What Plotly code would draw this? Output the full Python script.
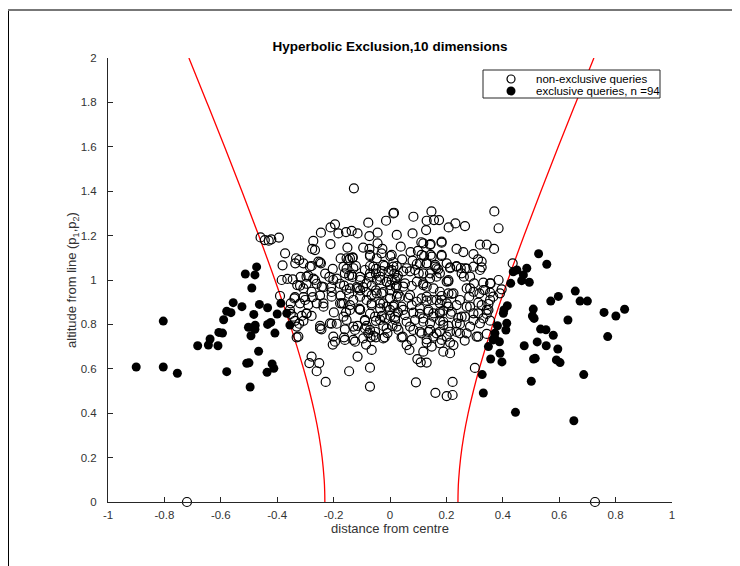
import plotly.graph_objects as go

# ---------------- data ----------------
open_x = [
    -0.72, 0.727,
    -0.459, -0.444, -0.430, -0.421, -0.394, -0.372, -0.381, -0.333, -0.336, -0.384, -0.364, -0.345, -0.329, -0.339, -0.390, -0.352, -0.343, -0.331, -0.325,
    -0.128, 0.012, -0.014, -0.077, -0.195, -0.211, -0.183, -0.156, -0.136, -0.115, -0.245, -0.073, -0.044, 0.024, -0.272, -0.211, -0.044, -0.151, -0.095, -0.073,
    -0.266, -0.276, -0.027, -0.175, -0.142, -0.133, -0.047, 0.001, -0.071, -0.322, -0.278, -0.248, -0.245, -0.203, -0.154, -0.121, -0.071, -0.050, -0.019, 0.024,
    0.012, -0.317, -0.290, -0.272, -0.230, -0.215, -0.189, -0.145, -0.133, -0.106, -0.071, -0.050, -0.029, -0.005, 0.015, 0.028,
    -0.319, -0.296, -0.260, -0.236, -0.209, -0.177, -0.163, -0.118, -0.095, -0.065, -0.035, -0.012, 0.006, 0.024,
    -0.337, -0.307, -0.274, -0.248, -0.207, -0.175, -0.145, -0.115, -0.106, -0.083, -0.050, -0.024, 0.001, 0.028,
    -0.352, -0.319, -0.290, -0.260, -0.236, -0.171, -0.142, -0.109, -0.065, -0.035, -0.012, 0.015,
    -0.355, -0.313, -0.296, -0.278, -0.199, -0.156, -0.089, -0.071, -0.029, 0.001, 0.028,
    -0.337, -0.322, -0.307, -0.248, -0.243, -0.207, -0.189, -0.160, -0.115, -0.083, -0.050, -0.024, -0.009, 0.009,
    -0.331, -0.195, -0.203, -0.163, -0.124, -0.077, -0.069, -0.085, -0.050, -0.019,
    -0.278, -0.286, -0.251, -0.115, -0.145, -0.071, -0.260, -0.228, -0.071, -0.065,
    0.014, 0.083, 0.147, 0.130, 0.156, 0.174, 0.370, 0.385, 0.208, 0.232, 0.266, 0.128, 0.080,
    0.038, 0.111, 0.144, 0.183, 0.236, 0.260, 0.319, 0.343, 0.369, 0.296, 0.006, 0.073, 0.099, 0.121, 0.144, 0.183,
    0.043, 0.080, 0.095, 0.130, 0.160, 0.171, 0.213, 0.236, 0.251, 0.272, 0.312, 0.325,
    0.012, 0.006, 0.047, 0.071, 0.102, 0.142, 0.165, 0.207, 0.262, 0.298, 0.331, 0.357, 0.385,
    0.018, 0.000, 0.021, 0.047, 0.077, 0.118, 0.183, 0.219, 0.284, 0.281, 0.317, 0.355, 0.390,
    0.024, 0.065, 0.095, 0.130, 0.177, 0.207, 0.236, 0.272, 0.313, 0.349,
    0.012, 0.047, 0.083, 0.106, 0.154, 0.189, 0.215, 0.242, 0.266, 0.313, 0.343,
    0.018, 0.059, 0.118, 0.177, 0.207, 0.248, 0.296, 0.319, 0.355,
    0.024, 0.083, 0.112, 0.136, 0.165, 0.213, 0.236, 0.272, 0.313, 0.343,
    0.045, 0.059, 0.069, 0.130, 0.148, 0.189, 0.213, 0.118, 0.265, 0.213,
    0.097, 0.109, 0.130, 0.092, 0.222, 0.161, 0.201, 0.222, 0.301,
    0.435, 0.396, 0.337, 0.366, 0.349, 0.331,
    -0.154, -0.132, -0.071, -0.030, 0.106, 0.201,
    -0.160, -0.136, -0.089, -0.059, -0.024, 0.059, 0.089, 0.118, 0.165, 0.201,
    -0.154, -0.083, -0.047, -0.012, 0.024, 0.053, 0.095, 0.130, 0.177, 0.207,
    -0.165, -0.130, -0.106, -0.065, -0.030, 0.000, 0.035, 0.071, 0.112, 0.148, 0.183,
    -0.142, -0.106, -0.065, -0.035, 0.000, 0.041, 0.077, 0.106, 0.136, 0.177,
    -0.154, -0.089, -0.053, -0.018, 0.018, 0.053, 0.089, 0.118, 0.154, 0.189,
    -0.124, -0.089, -0.053, -0.012, 0.030, 0.071, 0.106, 0.142, 0.177,
    -0.160, -0.130, -0.095, -0.059, -0.024, 0.041, 0.077, 0.130, 0.183,
    -0.307, -0.284, -0.254, -0.296, -0.266, -0.307, -0.278, -0.242, -0.301, -0.236, -0.296,
    -0.201, -0.207, -0.177, -0.142, -0.106, -0.071, -0.035, -0.047, -0.083, -0.024, -0.106,
    -0.165, -0.213, -0.248, -0.201, -0.130, -0.071, -0.035, -0.165, -0.130, -0.148,
    0.118, 0.142, 0.183, 0.112, 0.148, 0.183, 0.130, 0.160, 0.213, 0.236, 0.266, 0.296, 0.325,
    0.142, 0.177, 0.207, 0.254, 0.284, 0.319, 0.118, 0.154, 0.225, 0.272, 0.296, 0.331, 0.355,
    0.130, 0.165, 0.201, 0.248, 0.284, 0.325, 0.355, 0.136, 0.177, 0.219, 0.254, 0.296, 0.343,
    0.142, 0.189, 0.236, 0.284, 0.154, 0.201, 0.248, 0.307, 0.177, 0.225,
]
open_y = [
    0.0, 0.0,
    1.192, 1.180, 1.177, 1.183, 1.191, 1.120, 1.066, 1.098, 1.075, 1.000, 1.005, 1.003, 0.977, 0.917, 0.928, 0.847, 0.835, 0.790, 0.745,
    1.413, 1.300, 1.267, 1.258, 1.251, 1.237, 1.210, 1.216, 1.221, 1.210, 1.213, 1.198, 1.213, 1.203, 1.176, 1.162, 1.165, 1.146, 1.146, 1.140,
    1.135, 1.140, 1.140, 1.097, 1.097, 1.100, 1.097, 1.108, 1.108, 1.090, 1.063, 1.080, 1.075, 1.050, 1.050, 1.063, 1.063, 1.050, 1.063, 1.063,
    1.080, 1.014, 1.020, 1.006, 1.029, 1.014, 1.006, 1.020, 1.014, 1.014, 1.014, 1.029, 1.040, 1.040, 1.029, 1.020,
    0.975, 0.983, 0.983, 0.968, 0.968, 0.983, 0.975, 0.968, 0.968, 0.975, 1.000, 0.991, 1.000, 0.975,
    0.923, 0.923, 0.923, 0.930, 0.946, 0.930, 0.938, 0.962, 0.953, 0.946, 0.953, 0.946, 0.953, 0.938,
    0.895, 0.895, 0.887, 0.895, 0.895, 0.895, 0.887, 0.871, 0.895, 0.895, 0.880, 0.887,
    0.865, 0.838, 0.848, 0.838, 0.854, 0.854, 0.816, 0.848, 0.838, 0.838, 0.854,
    0.816, 0.803, 0.816, 0.793, 0.778, 0.803, 0.803, 0.778, 0.793, 0.793, 0.816, 0.793, 0.761, 0.793,
    0.742, 0.722, 0.709, 0.742, 0.722, 0.761, 0.742, 0.709, 0.742, 0.742,
    0.655, 0.626, 0.626, 0.655, 0.589, 0.605, 0.589, 0.541, 0.520, 0.685,
    1.303, 1.285, 1.309, 1.267, 1.270, 1.270, 1.309, 1.233, 1.237, 1.255, 1.243, 1.225, 1.210,
    1.150, 1.170, 1.162, 1.173, 1.140, 1.126, 1.159, 1.159, 1.140, 1.117, 1.113, 1.126, 1.131, 1.108, 1.113, 1.108,
    1.093, 1.087, 1.072, 1.075, 1.060, 1.048, 1.057, 1.063, 1.054, 1.051, 1.093, 1.057,
    1.060, 1.045, 1.039, 1.039, 1.030, 1.007, 1.015, 0.994, 1.015, 0.985, 0.988, 0.985, 1.000,
    1.000, 0.977, 0.967, 0.970, 0.973, 0.977, 0.928, 0.937, 0.962, 0.925, 0.940, 0.943, 0.940,
    0.925, 0.920, 0.902, 0.907, 0.895, 0.880, 0.887, 0.880, 0.898, 0.892,
    0.880, 0.865, 0.853, 0.847, 0.850, 0.862, 0.847, 0.829, 0.835, 0.850, 0.847,
    0.835, 0.812, 0.812, 0.817, 0.793, 0.802, 0.820, 0.805, 0.817,
    0.790, 0.775, 0.760, 0.766, 0.760, 0.767, 0.766, 0.760, 0.745, 0.757,
    0.745, 0.707, 0.685, 0.718, 0.700, 0.677, 0.670, 0.677, 0.727, 0.718,
    0.644, 0.629, 0.628, 0.539, 0.541, 0.492, 0.477, 0.482, 0.604,
    1.075, 0.958, 0.955, 0.925, 0.865, 0.827,
    1.098, 1.102, 1.113, 1.120, 1.075, 1.075,
    1.030, 1.023, 1.045, 1.060, 1.068, 1.053, 1.045, 1.030, 1.053, 0.993,
    0.955, 0.985, 1.000, 0.993, 1.008, 0.985, 0.993, 0.970, 0.947, 0.940,
    0.895, 0.910, 0.925, 0.932, 0.940, 0.917, 0.925, 0.932, 0.917, 0.910, 0.910,
    0.865, 0.868, 0.887, 0.872, 0.865, 0.880, 0.887, 0.872, 0.857, 0.857,
    0.820, 0.820, 0.835, 0.827, 0.820, 0.842, 0.820, 0.827, 0.835, 0.812,
    0.775, 0.782, 0.767, 0.782, 0.775, 0.790, 0.767, 0.775, 0.767,
    0.730, 0.730, 0.737, 0.748, 0.737, 0.742, 0.730, 0.733, 0.730,
    1.075, 1.060, 1.083, 1.015, 1.000, 0.962, 0.947, 0.970, 0.910, 0.880, 0.850,
    1.000, 0.925, 0.895, 0.962, 1.000, 1.030, 1.015, 0.940, 0.910, 0.895, 0.865,
    0.835, 0.805, 0.782, 0.745, 0.790, 0.775, 0.820, 1.060, 1.053, 1.090,
    1.165, 1.158, 1.168, 1.113, 1.105, 1.113, 1.075, 1.068, 1.053, 1.060, 1.053, 1.060, 1.083,
    1.030, 1.030, 1.000, 1.030, 1.015, 1.045, 0.985, 0.962, 0.940, 0.962, 0.947, 0.955, 0.985,
    0.925, 0.910, 0.895, 0.910, 0.880, 0.887, 0.910, 0.865, 0.850, 0.857, 0.835, 0.850, 0.865,
    0.805, 0.797, 0.805, 0.790, 0.745, 0.745, 0.760, 0.745, 0.715, 0.707,
]

excl_x = [
    -0.900, -0.804, -0.804, -0.754, -0.682, -0.644, -0.638, -0.610, -0.607, -0.594,
    -0.590, -0.579, -0.564, -0.556, -0.525, -0.579, -0.513, -0.473, -0.479, -0.490,
    -0.463, -0.483, -0.434, -0.400, -0.387, -0.502, -0.478, -0.479, -0.493, -0.434,
    -0.423, -0.408, -0.466, -0.508, -0.500, -0.418, -0.412, -0.436, -0.496, -0.355,
    -0.366,
    0.527, 0.556, 0.485, 0.473, 0.467, 0.494, 0.437, 0.428, 0.657, 0.597,
    0.570, 0.674, 0.700, 0.759, 0.801, 0.832, 0.772, 0.631, 0.508, 0.505,
    0.511, 0.534, 0.553, 0.579, 0.522, 0.554, 0.595, 0.476, 0.509, 0.515,
    0.590, 0.603, 0.687, 0.501, 0.445, 0.652, 0.416, 0.404, 0.414, 0.411,
    0.381, 0.372, 0.388, 0.349, 0.390, 0.357, 0.397, 0.327, 0.331, 0.402,
    0.372, 0.366, 0.450,
]
excl_y = [
    0.608, 0.815, 0.608, 0.580, 0.704, 0.707, 0.734, 0.704, 0.764, 0.761,
    0.821, 0.859, 0.853, 0.898, 0.880, 0.587, 1.027, 1.059, 1.023, 0.964,
    0.890, 0.845, 0.875, 0.847, 0.895, 0.787, 0.796, 0.778, 0.749, 0.800,
    0.809, 0.761, 0.679, 0.625, 0.627, 0.622, 0.602, 0.584, 0.518, 0.797,
    0.850,
    1.118, 1.071, 1.053, 1.023, 0.997, 0.990, 1.037, 0.985, 0.950, 0.926,
    0.905, 0.905, 0.905, 0.854, 0.838, 0.868, 0.745, 0.820, 0.869, 0.838,
    0.827, 0.779, 0.776, 0.751, 0.721, 0.704, 0.689, 0.704, 0.644, 0.647,
    0.640, 0.628, 0.574, 0.544, 0.404, 0.366, 0.884, 0.865, 0.805, 0.775,
    0.794, 0.737, 0.722, 0.700, 0.670, 0.644, 0.631, 0.574, 0.491, 0.850,
    0.760, 0.730, 1.045,
]

# hyperbolic boundary
curve_y = [0.0, 0.05, 0.1, 0.2, 0.3, 0.4, 0.5, 0.6, 0.8, 1.0, 1.2, 1.4, 1.6, 1.8, 2.0]
right_x = [0.241, 0.2416, 0.2434, 0.2506, 0.262, 0.2772, 0.2956, 0.3166, 0.3646, 0.4181, 0.4754, 0.5351, 0.5966, 0.6594, 0.7231]
left_x = [-0.231, -0.2316, -0.2334, -0.2406, -0.252, -0.2672, -0.2856, -0.3066, -0.3546, -0.4081, -0.4654, -0.5251, -0.5866, -0.6494, -0.7131]

x_ticks = [-1, -0.8, -0.6, -0.4, -0.2, 0, 0.2, 0.4, 0.6, 0.8, 1]
x_ticktext = ["-1", "-0.8", "-0.6", "-0.4", "-0.2", "0", "0.2", "0.4", "0.6", "0.8", "1"]
y_ticks = [0, 0.2, 0.4, 0.6, 0.8, 1, 1.2, 1.4, 1.6, 1.8, 2]
y_ticktext = ["0", "0.2", "0.4", "0.6", "0.8", "1", "1.2", "1.4", "1.6", "1.8", "2"]

legend_labels = ["non-exclusive queries", "exclusive queries, n =94"]

# ---------------- figure ----------------
FONT = "Liberation Sans, Arial, Helvetica, sans-serif"
AX = "#262626"
TXT = "#333333"

fig = go.Figure()

fig.add_trace(go.Scatter(
    x=left_x, y=curve_y, mode="lines", line=dict(color="#ff0000", width=1.3, shape="spline"),
    showlegend=False, hoverinfo="skip"))
fig.add_trace(go.Scatter(
    x=right_x, y=curve_y, mode="lines", line=dict(color="#ff0000", width=1.3, shape="spline"),
    showlegend=False, hoverinfo="skip"))

fig.add_trace(go.Scatter(
    x=open_x, y=open_y, mode="markers", name=legend_labels[0],
    marker=dict(symbol="circle-open", size=9, color="black", line=dict(width=1.2, color="black")),
    cliponaxis=False, showlegend=False))
fig.add_trace(go.Scatter(
    x=excl_x, y=excl_y, mode="markers", name=legend_labels[1],
    marker=dict(symbol="circle", size=9, color="black", line=dict(width=0)),
    cliponaxis=False, showlegend=False))

# page has an 8px body margin; figure is sized so the page is 740x566
OFF = 8
W, H = 740 - OFF, 566 - OFF
L, R, T, B = 100, 68, 50, 64
pw, ph = W - L - R, H - T - B


def px_x(p):  # page pixel -> paper x
    return (p - OFF - L) / pw


def px_y(p):  # page pixel -> paper y
    return (OFF + T + ph - p) / ph


fig.update_layout(
    width=W, height=H,
    margin=dict(l=L, r=R, t=T, b=B),
    paper_bgcolor="white", plot_bgcolor="white",
    font=dict(family=FONT, size=11.5, color=TXT),
    title=dict(text="<b>Hyperbolic Exclusion,10 dimensions</b>", x=(L + pw / 2) / W, xanchor="center",
               y=1 - (46 - OFF) / H, yanchor="middle", yref="container",
               font=dict(family=FONT, size=13.5, color="black")),
    xaxis=dict(range=[-1, 1], tickvals=x_ticks, ticktext=x_ticktext, ticks="inside", ticklen=5,
               tickcolor=AX, showline=True, linecolor=AX, linewidth=1, showgrid=False, zeroline=False,
               tickfont=dict(size=11.5, color=TXT), ticklabelstandoff=2,
               title=dict(text="distance from centre", font=dict(size=13, color=TXT), standoff=2)),
    yaxis=dict(range=[0, 2], tickvals=y_ticks, ticktext=y_ticktext, ticks="inside", ticklen=5,
               tickcolor=AX, showline=True, linecolor=AX, linewidth=1, showgrid=False, zeroline=False,
               tickfont=dict(size=11.5, color=TXT), ticklabelstandoff=8,
               title=dict(text="altitude from line (p<sub>1</sub>,p<sub>2</sub>)", font=dict(size=13, color=TXT), standoff=0)),
    showlegend=False,
)

# legend drawn as a compact box (MATLAB style)
fig.add_shape(type="rect", xref="paper", yref="paper", x0=px_x(483), x1=px_x(660), y0=px_y(98), y1=px_y(70),
              line=dict(color=AX, width=1), fillcolor="white", layer="above")
legend_rows = [79, 91]
fig.add_shape(type="circle", xref="paper", yref="paper", xsizemode="pixel", ysizemode="pixel",
              xanchor=px_x(511), yanchor=px_y(legend_rows[0]), x0=-4, x1=4, y0=-4, y1=4,
              line=dict(color="black", width=1.2), fillcolor="white", layer="above")
fig.add_shape(type="circle", xref="paper", yref="paper", xsizemode="pixel", ysizemode="pixel",
              xanchor=px_x(511), yanchor=px_y(legend_rows[1]), x0=-4.5, x1=4.5, y0=-4.5, y1=4.5,
              line=dict(color="black", width=0), fillcolor="black", layer="above")
for lab, row in zip(legend_labels, legend_rows):
    fig.add_annotation(text=lab, xref="paper", yref="paper", x=px_x(534), y=px_y(row),
                       xanchor="left", yanchor="middle", showarrow=False,
                       font=dict(family=FONT, size=11.5, color="black"))

# outer figure frame (left edge and top edge)
fig.add_shape(type="line", xref="paper", yref="paper", x0=px_x(8.5), x1=px_x(8.5), y0=px_y(10), y1=px_y(570),
              line=dict(color="black", width=1))
fig.add_shape(type="line", xref="paper", yref="paper", x0=px_x(8), x1=px_x(745), y0=px_y(10), y1=px_y(10),
              line=dict(color="#777777", width=2))

fig.write_html("out.html")
